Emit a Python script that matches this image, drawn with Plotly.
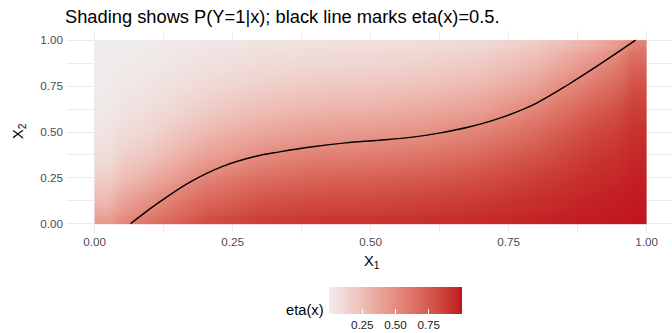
import numpy as np
import plotly.graph_objects as go

# ---------------- data ----------------
x1_grid = [0.0, 0.1, 0.2, 0.3, 0.4, 0.5, 0.6, 0.7, 0.8, 0.9, 1.0]
x2_grid = [0.0, 0.125, 0.25, 0.375, 0.5, 0.625, 0.75, 0.875, 1.0]

# eta(x) estimated at grid points; one row per x2 value (bottom -> top)
eta_rows = [
    [0.42, 0.62, 0.80, 0.87, 0.90, 0.91, 0.92, 0.94, 0.96, 0.98, 0.99],
    [0.28, 0.49, 0.69, 0.78, 0.82, 0.83, 0.86, 0.89, 0.93, 0.965, 0.985],
    [0.16, 0.33, 0.54, 0.65, 0.70, 0.72, 0.75, 0.80, 0.87, 0.935, 0.97],
    [0.09, 0.21, 0.39, 0.50, 0.56, 0.58, 0.62, 0.68, 0.78, 0.89, 0.95],
    [0.05, 0.13, 0.27, 0.36, 0.42, 0.44, 0.48, 0.55, 0.67, 0.82, 0.92],
    [0.03, 0.08, 0.175, 0.245, 0.29, 0.31, 0.35, 0.41, 0.54, 0.725, 0.87],
    [0.016, 0.048, 0.108, 0.156, 0.19, 0.206, 0.233, 0.285, 0.40, 0.60, 0.79],
    [0.009, 0.028, 0.064, 0.095, 0.118, 0.129, 0.147, 0.185, 0.275, 0.46, 0.69],
    [0.005, 0.016, 0.038, 0.057, 0.071, 0.078, 0.089, 0.114, 0.178, 0.327, 0.556],
]

# eta(x) = 0.5 boundary
boundary_x1 = [0.065, 0.112, 0.172, 0.232, 0.292, 0.335, 0.395, 0.455, 0.515,
               0.576, 0.624, 0.678, 0.738, 0.799, 0.859, 0.919, 0.98]
boundary_x2 = [0.0, 0.107, 0.226, 0.313, 0.368, 0.392, 0.420, 0.441, 0.455,
               0.472, 0.494, 0.527, 0.580, 0.655, 0.760, 0.876, 1.0]

axis_ticks = [0.0, 0.25, 0.5, 0.75, 1.0]
axis_tick_labels = ["0.00", "0.25", "0.50", "0.75", "1.00"]
legend_ticks = [0.25, 0.5, 0.75]
legend_tick_labels = ["0.25", "0.50", "0.75"]

title_text = "Shading shows P(Y=1|x); black line marks eta(x)=0.5."

# ---------------- colour scale (Lab interpolation, like ggplot) ----------------
LOW = (240, 238, 238)
HIGH = (192, 18, 31)


def _to_lin(c):
    c = c / 255.0
    return c / 12.92 if c <= 0.04045 else ((c + 0.055) / 1.055) ** 2.4


def _from_lin(c):
    v = 12.92 * c if c <= 0.0031308 else 1.055 * c ** (1 / 2.4) - 0.055
    return int(round(min(max(v, 0), 1) * 255))


M = np.array([[0.4124, 0.3576, 0.1805], [0.2126, 0.7152, 0.0722], [0.0193, 0.1192, 0.9505]])
Minv = np.linalg.inv(M)
WP = np.array([0.95047, 1.0, 1.08883])


def rgb2lab(rgb):
    xyz = M @ np.array([_to_lin(c) for c in rgb]) / WP
    f = np.where(xyz > 0.008856, np.cbrt(xyz), 7.787 * xyz + 16 / 116)
    return np.array([116 * f[1] - 16, 500 * (f[0] - f[1]), 200 * (f[1] - f[2])])


def lab2rgb(lab):
    fy = (lab[0] + 16) / 116
    fx = fy + lab[1] / 500
    fz = fy - lab[2] / 200
    f = np.array([fx, fy, fz])
    xyz = np.where(f ** 3 > 0.008856, f ** 3, (f - 16 / 116) / 7.787) * WP
    lin = Minv @ xyz
    return tuple(_from_lin(c) for c in lin)


la, lb = rgb2lab(LOW), rgb2lab(HIGH)
colorscale = []
for t in np.linspace(0, 1, 21):
    r, g, b = lab2rgb(la + (lb - la) * t)
    colorscale.append([float(t), f"rgb({r},{g},{b})"])


def edges(g):
    g = np.asarray(g, dtype=float)
    mids = (g[:-1] + g[1:]) / 2
    return np.concatenate([[g[0]], mids, [g[-1]]])


# ---------------- geometry ----------------
W, H = 672, 333
ML, MR, MT, MB = 67, 0, 31, 100
PW, PH = W - ML - MR, H - MT - MB


def px_x(px):
    return (px - ML) / PW


def px_y(py):
    return (MT + PH - py) / PH


FONT = "Liberation Sans, Arial, Helvetica, sans-serif"

fig = go.Figure()
fig.add_trace(go.Heatmap(
    x=edges(x1_grid), y=edges(x2_grid), z=eta_rows,
    zsmooth="best", zmin=0.0, zmax=1.0, colorscale=colorscale,
    hoverinfo="skip",
    colorbar=dict(
        orientation="h", lenmode="pixels", len=133, thickness=27,
        x=px_x(395.5), xanchor="center", y=px_y(287), yanchor="top",
        xpad=0, ypad=0, outlinewidth=0,
        tickvals=legend_ticks, ticktext=legend_tick_labels,
        ticks="inside", ticklen=5, tickcolor="white", tickwidth=1,
        tickfont=dict(family=FONT, size=11.7, color="#1a1a1a"),
    ),
))
fig.add_trace(go.Scatter(
    x=boundary_x1, y=boundary_x2, mode="lines",
    line=dict(color="black", width=1.4, shape="spline", smoothing=1.0),
    hoverinfo="skip", showlegend=False,
))

axis_common = dict(
    tickvals=axis_ticks, ticktext=axis_tick_labels,
    tickfont=dict(family=FONT, size=11.7, color="#4D4D4D"),
    showgrid=True, gridcolor="#EBEBEB", gridwidth=1.07,
    zeroline=False, showline=False, ticks="", automargin=False,
    minor=dict(tick0=0.125, dtick=0.25, showgrid=True, gridcolor="#EBEBEB", gridwidth=0.55),
)
fig.update_xaxes(range=[-0.05, 1.046], **axis_common)
fig.update_yaxes(range=[-0.05, 1.05], ticklabelstandoff=3, **axis_common)

fig.update_layout(
    width=W, height=H,
    margin=dict(l=ML, r=MR, t=MT, b=MB, autoexpand=False),
    paper_bgcolor="white", plot_bgcolor="white",
    font=dict(family=FONT, color="black"),
    showlegend=False,
    title=dict(text=title_text, x=65 / W, xref="container", xanchor="left",
               y=1 - 17 / H, yref="container", yanchor="middle",
               pad=dict(l=0, r=0, t=0, b=0), automargin=False,
               font=dict(family=FONT, size=18.3, color="black")),
    annotations=[
        dict(text="X<sub>1</sub>", x=px_x(372), y=px_y(262), xref="paper", yref="paper",
             showarrow=False, xanchor="center", yanchor="middle",
             font=dict(family=FONT, size=14.7, color="black")),
        dict(text="X<sub>2</sub>", x=px_x(19), y=px_y(131), xref="paper", yref="paper",
             showarrow=False, xanchor="center", yanchor="middle", textangle=-90,
             font=dict(family=FONT, size=14.7, color="black")),
        dict(text="eta(x)", x=px_x(326), y=px_y(310), xref="paper", yref="paper",
             showarrow=False, xanchor="right", yanchor="middle",
             font=dict(family=FONT, size=14.7, color="black")),
    ],
)

fig.write_html(
    "out.html",
    config={"displayModeBar": False},
    post_script="document.body.style.margin='0';document.body.style.padding='0';"
                "document.documentElement.style.overflow='hidden';",
)
